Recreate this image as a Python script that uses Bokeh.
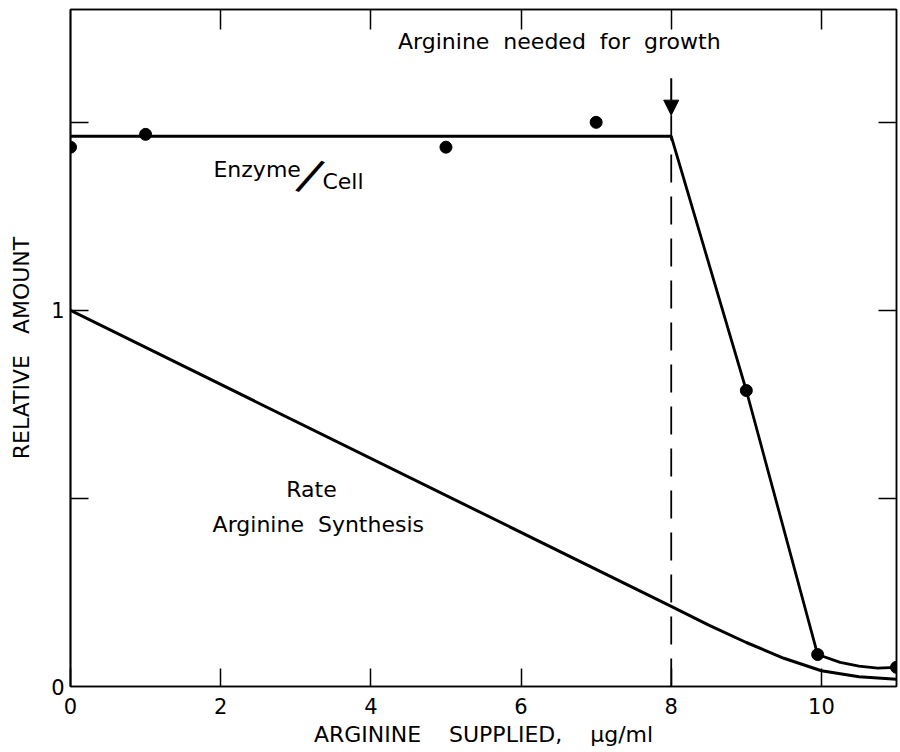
from bokeh.plotting import figure
from bokeh.models import (Label, Arrow, NormalHead, LinearAxis, FixedTicker, Range1d)
from bokeh.embed import file_html
from bokeh.resources import INLINE

# ---- data ----
enzyme_line_x = [0, 8, 9, 9.95, 10.25, 10.5, 10.75, 11]
enzyme_line_y = [1.463, 1.463, 0.787, 0.085, 0.064, 0.054, 0.049, 0.051]

enzyme_pts_x = [0, 1, 5, 7, 9, 9.95, 11]
enzyme_pts_y = [1.434, 1.468, 1.434, 1.50, 0.787, 0.085, 0.051]

rate_x = [0, 8, 8.5, 9, 9.5, 10, 10.5, 11]
rate_y = [1.0, 0.213, 0.163, 0.117, 0.075, 0.042, 0.026, 0.019]

x_ticks = [0, 2, 4, 6, 8, 10]
y_label_ticks = [0, 1]
y_minor_ticks = [0.5, 1, 1.5]
top_ticks = [2, 4, 6, 8, 10]

needed_x = 8.0          # arginine needed for growth
arrow_top, arrow_tip = 1.617, 1.519

FONT = "DejaVu Sans"
NB = "\u00a0 "
NB2 = "\u00a0\u00a0 "
NB4 = "\u00a0\u00a0\u00a0 "

p = figure(width=898, height=750, output_backend="svg", toolbar_location=None,
           x_range=Range1d(0, 11), y_range=Range1d(0, 1.8),
           x_axis_location=None, y_axis_location=None,
           min_border_left=70, min_border_right=2, min_border_top=9, min_border_bottom=64,
           background_fill_color="white", border_fill_color="white")
p.grid.visible = False
p.outline_line_color = "black"
p.outline_line_width = 1.5


def tick_only_axis(ticks, tick_in):
    return LinearAxis(ticker=FixedTicker(ticks=ticks), major_label_text_font_size="1px",
                      major_label_text_alpha=0, major_label_standoff=0,
                      major_tick_in=tick_in, major_tick_out=0,
                      minor_tick_line_color=None, axis_line_width=1.5,
                      major_tick_line_width=1.5)


# bottom axis
xa = LinearAxis(ticker=FixedTicker(ticks=x_ticks))
xa.axis_label = "ARGININE" + NB4 + "SUPPLIED," + NB4 + "\u03bcg/ml"
xa.axis_label_text_font = FONT
xa.axis_label_text_font_style = "normal"
xa.axis_label_text_font_size = "22px"
xa.axis_label_text_color = "black"
xa.axis_label_standoff = 5
xa.major_label_text_font = FONT
xa.major_label_text_font_size = "21px"
xa.major_label_text_color = "black"
xa.major_label_standoff = 11
xa.major_tick_in = 18
xa.major_tick_out = 0
xa.minor_tick_line_color = None
xa.axis_line_width = 1.5
xa.major_tick_line_width = 1.5
p.add_layout(xa, "below")

# left: inner tick-only axis, then labelled axis
p.add_layout(tick_only_axis(y_minor_ticks, 18), "left")
ya = LinearAxis(ticker=FixedTicker(ticks=y_label_ticks))
ya.axis_label = "RELATIVE" + NB2 + "AMOUNT"
ya.axis_label_text_font = FONT
ya.axis_label_text_font_style = "normal"
ya.axis_label_text_font_size = "22px"
ya.axis_label_text_color = "black"
ya.axis_label_standoff = 14
ya.major_label_text_font = FONT
ya.major_label_text_font_size = "21px"
ya.major_label_text_color = "black"
ya.major_label_standoff = 6
ya.major_label_orientation = "horizontal"
ya.major_tick_in = 0
ya.major_tick_out = 0
ya.minor_tick_line_color = None
ya.axis_line_width = 1.5
p.add_layout(ya, "left")

# right and top axes: inward ticks only
p.add_layout(tick_only_axis(y_minor_ticks, 18), "right")
p.add_layout(tick_only_axis(top_ticks, 20), "above")

# curves
p.line(rate_x, rate_y, line_color="black", line_width=3)
p.line(enzyme_line_x, enzyme_line_y, line_color="black", line_width=2.8)
p.scatter(enzyme_pts_x, enzyme_pts_y, size=12, fill_color="black", line_color="black")

# dashed marker and arrow
p.line([needed_x, needed_x], [0, arrow_tip], line_color="black", line_width=1.8,
       line_dash="28 14")
p.add_layout(Arrow(end=NormalHead(size=15, fill_color="black", line_color="black"),
                   x_start=needed_x, y_start=arrow_top, x_end=needed_x, y_end=arrow_tip,
                   line_width=2, line_color="black"))


def lab(x, y, t, size="22px", align="left", base="middle", angle=0):
    p.add_layout(Label(x=x, y=y, text=t, text_font=FONT, text_font_size=size,
                       text_align=align, text_baseline=base, angle=angle,
                       text_color="black"))


lab(6.51, 1.715, "Arginine" + NB + "needed" + NB + "for" + NB + "growth", align="center")
lab(1.904, 1.375, "Enzyme")
lab(3.196, 1.36, "/", size="46px", align="center", angle=-0.42)
lab(3.355, 1.343, "Cell")
lab(3.21, 0.524, "Rate", align="center")
lab(3.30, 0.431, "Arginine" + NB + "Synthesis", align="center")

open("out.html", "w").write(file_html(p, INLINE))
